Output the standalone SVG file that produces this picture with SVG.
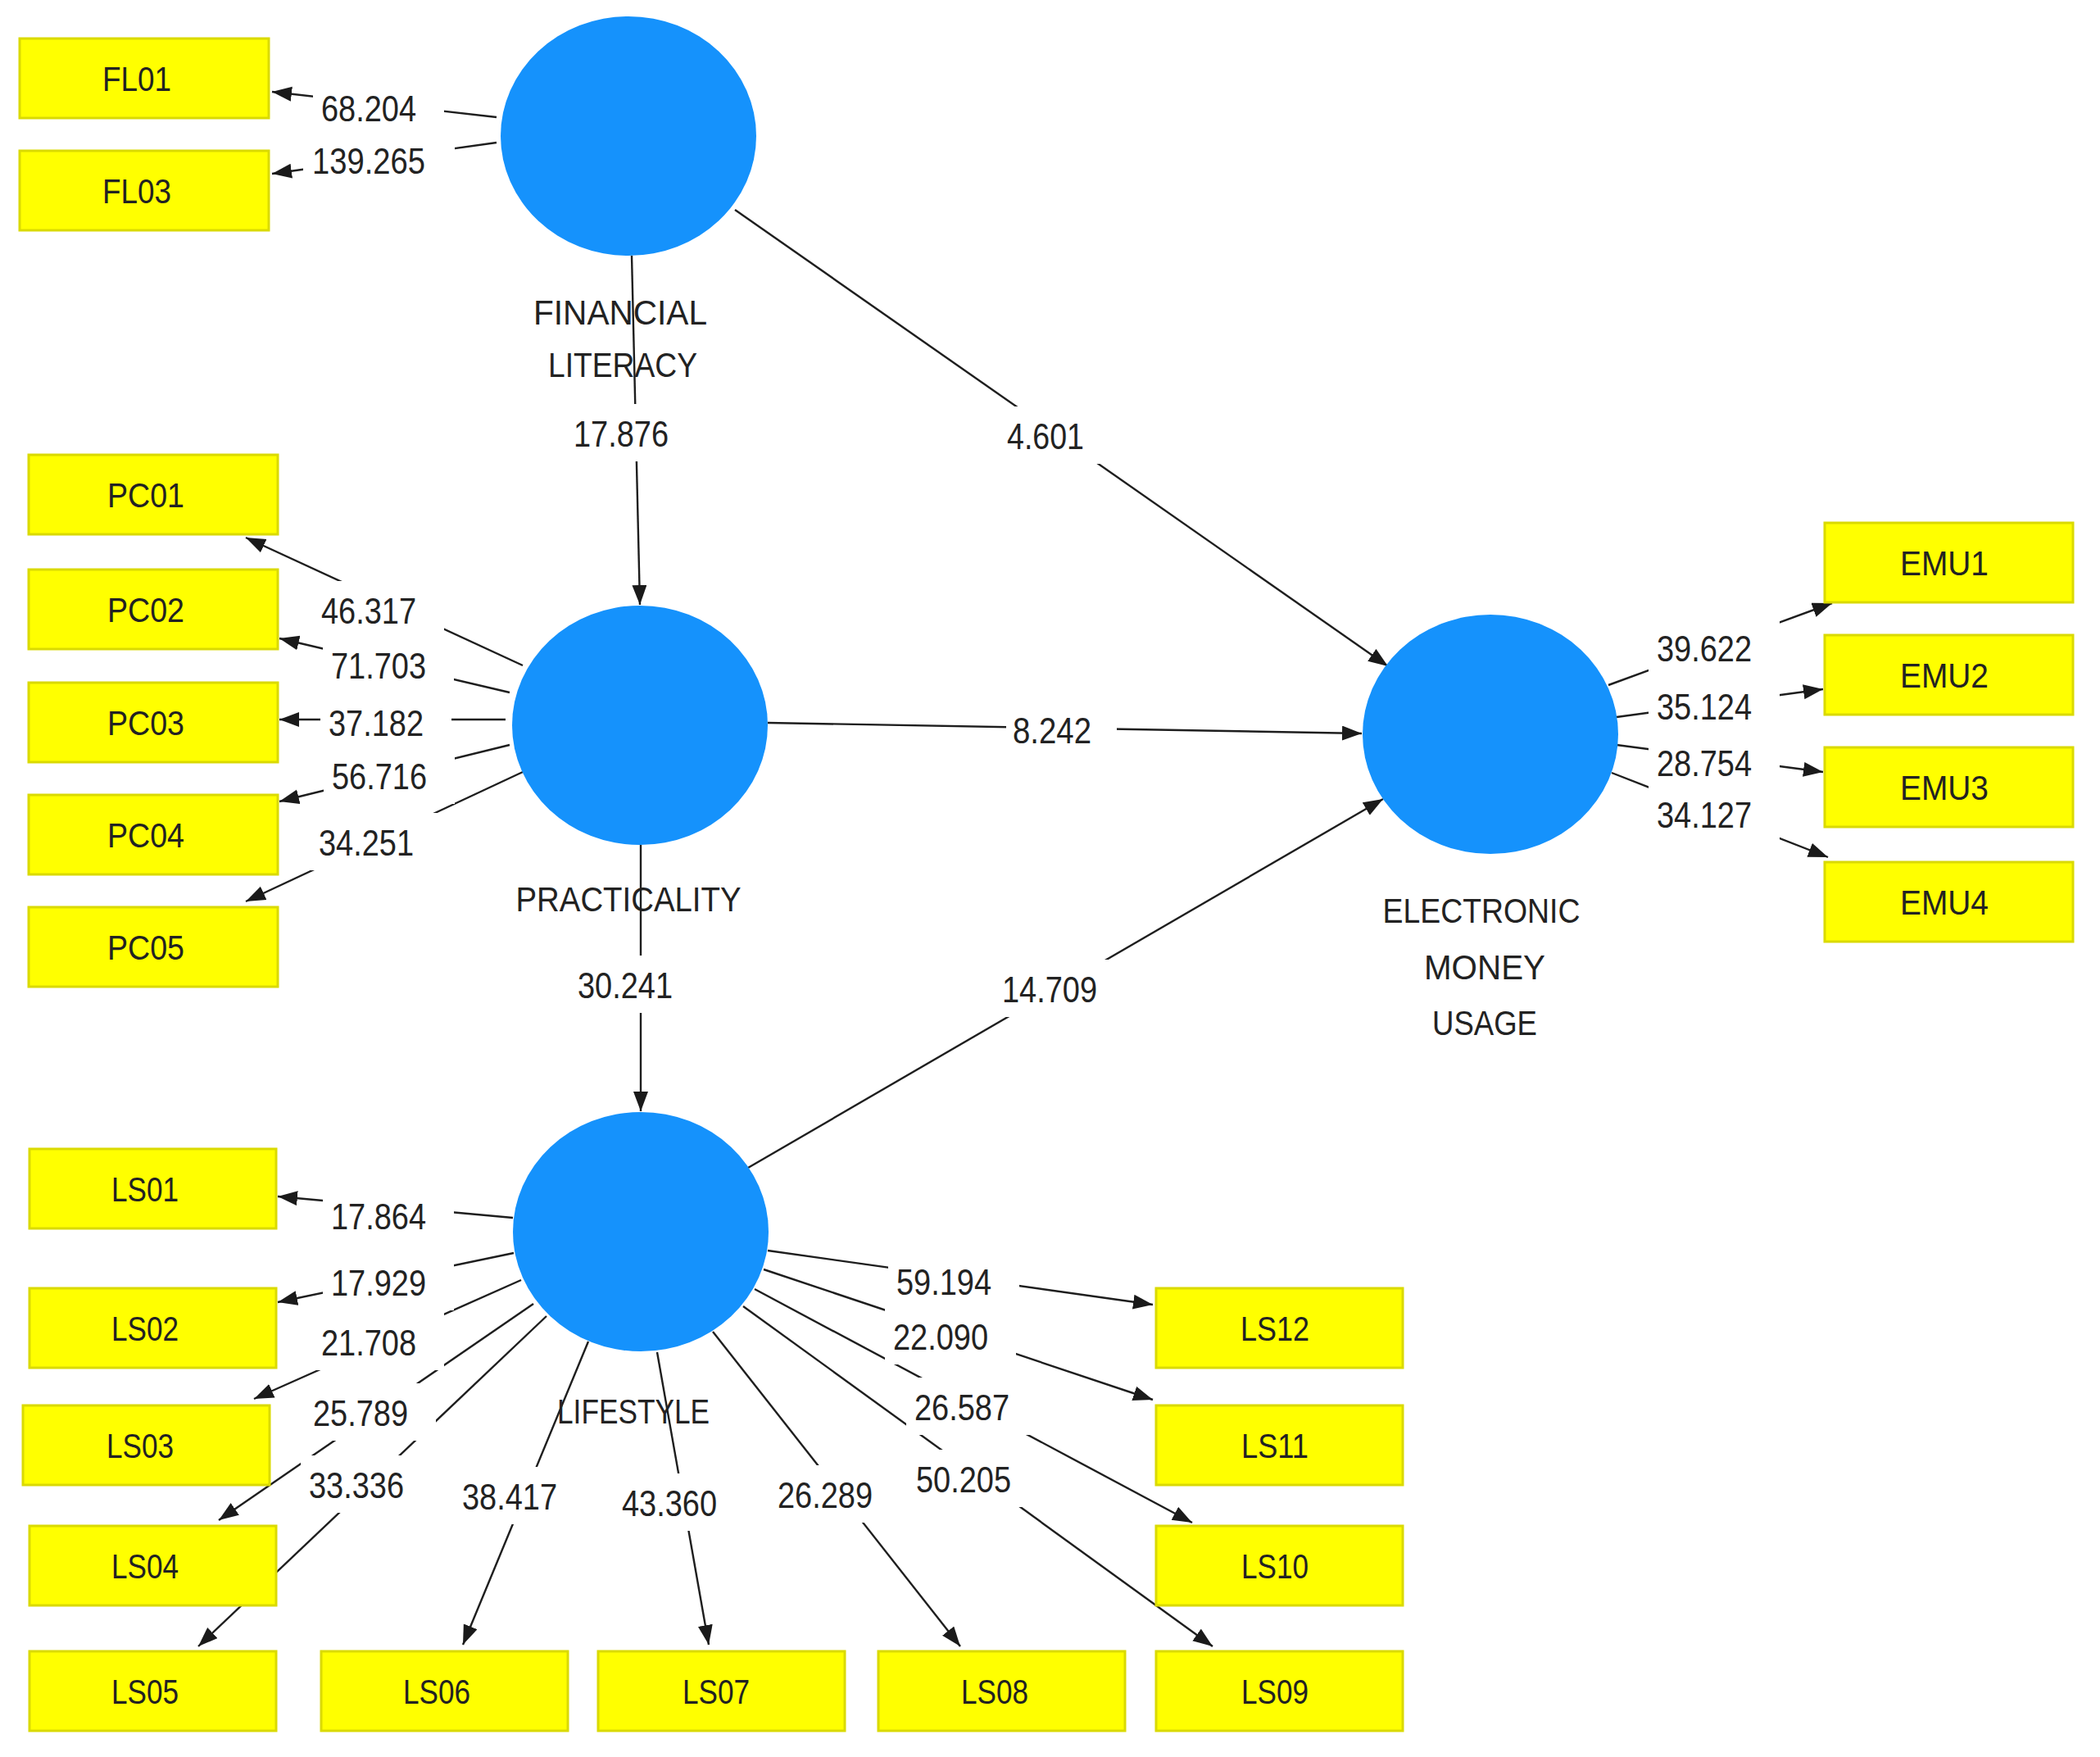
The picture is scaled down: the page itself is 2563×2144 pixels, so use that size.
<svg xmlns="http://www.w3.org/2000/svg" width="2563" height="2144" viewBox="0 0 2563 2144">
<defs>
<marker id="ah" markerUnits="userSpaceOnUse" markerWidth="26" markerHeight="20" refX="24" refY="9" orient="auto">
<path d="M0,0 L24,9 L0,18 Z" fill="#1a1a1a"/>
</marker>
<style>
.c{stroke:#1e1e1e;stroke-width:2.4;fill:none;marker-end:url(#ah)}
.lv{fill:#1592FC}
.mv{fill:#FFFF00;stroke:#DADA00;stroke-width:3}
.t{font-family:"Liberation Sans",Arial,sans-serif;fill:#222;text-anchor:middle}
.n{font-size:44px}
.b{font-size:42px}
.k{font-size:42px}
.bg{fill:#ffffff}
</style>
</defs>
<rect width="2563" height="2144" fill="#ffffff"/>
<g id="connectors">
<line class="c" x1="771" y1="312" x2="781" y2="738"/>
<line class="c" x1="782" y1="1031" x2="782" y2="1356"/>
<line class="c" x1="897" y1="256" x2="1694" y2="813"/>
<line class="c" x1="937" y1="882" x2="1662" y2="895"/>
<line class="c" x1="913" y1="1425" x2="1688" y2="975"/>
<line class="c" x1="606" y1="143" x2="332" y2="112"/>
<line class="c" x1="606" y1="174" x2="332" y2="212"/>
<line class="c" x1="638" y1="812" x2="300" y2="656"/>
<line class="c" x1="622" y1="845" x2="341" y2="779"/>
<line class="c" x1="617" y1="878" x2="341" y2="878"/>
<line class="c" x1="622" y1="909" x2="341" y2="978"/>
<line class="c" x1="638" y1="942" x2="300" y2="1100"/>
<line class="c" x1="1963" y1="836" x2="2236" y2="736"/>
<line class="c" x1="1973" y1="875" x2="2225" y2="841"/>
<line class="c" x1="1973" y1="909" x2="2225" y2="942"/>
<line class="c" x1="1967" y1="943" x2="2231" y2="1046"/>
<line class="c" x1="626" y1="1486" x2="339" y2="1460"/>
<line class="c" x1="627" y1="1529" x2="339" y2="1589"/>
<line class="c" x1="636" y1="1562" x2="310" y2="1707"/>
<line class="c" x1="651" y1="1591" x2="267" y2="1855"/>
<line class="c" x1="667" y1="1606" x2="242" y2="2009"/>
<line class="c" x1="718" y1="1637" x2="565" y2="2007"/>
<line class="c" x1="802" y1="1650" x2="865" y2="2007"/>
<line class="c" x1="870" y1="1625" x2="1172" y2="2009"/>
<line class="c" x1="907" y1="1594" x2="1480" y2="2009"/>
<line class="c" x1="921" y1="1573" x2="1455" y2="1858"/>
<line class="c" x1="932" y1="1549" x2="1407" y2="1708"/>
<line class="c" x1="937" y1="1526" x2="1407" y2="1592"/>
</g>
<g id="edge-labels">
<rect class="bg" x="690" y="493" width="160" height="70"/><text class="t n" x="758" y="545" textLength="116" lengthAdjust="spacingAndGlyphs">17.876</text>
<rect class="bg" x="695" y="1166" width="160" height="70"/><text class="t n" x="763" y="1218" textLength="116" lengthAdjust="spacingAndGlyphs">30.241</text>
<rect class="bg" x="1220" y="496" width="135" height="70"/><text class="t n" x="1276" y="548" textLength="94" lengthAdjust="spacingAndGlyphs">4.601</text>
<rect class="bg" x="1228" y="855" width="135" height="70"/><text class="t n" x="1284" y="907" textLength="96" lengthAdjust="spacingAndGlyphs">8.242</text>
<rect class="bg" x="1213" y="1171" width="160" height="70"/><text class="t n" x="1281" y="1223" textLength="116" lengthAdjust="spacingAndGlyphs">14.709</text>
<rect class="bg" x="382" y="96" width="160" height="70"/><text class="t n" x="450" y="148" textLength="116" lengthAdjust="spacingAndGlyphs">68.204</text>
<rect class="bg" x="370" y="160" width="185" height="70"/><text class="t n" x="450" y="212" textLength="138" lengthAdjust="spacingAndGlyphs">139.265</text>
<rect class="bg" x="382" y="709" width="160" height="70"/><text class="t n" x="450" y="761" textLength="116" lengthAdjust="spacingAndGlyphs">46.317</text>
<rect class="bg" x="394" y="776" width="160" height="70"/><text class="t n" x="462" y="828" textLength="116" lengthAdjust="spacingAndGlyphs">71.703</text>
<rect class="bg" x="391" y="846" width="160" height="70"/><text class="t n" x="459" y="898" textLength="116" lengthAdjust="spacingAndGlyphs">37.182</text>
<rect class="bg" x="395" y="911" width="160" height="70"/><text class="t n" x="463" y="963" textLength="116" lengthAdjust="spacingAndGlyphs">56.716</text>
<rect class="bg" x="379" y="992" width="160" height="70"/><text class="t n" x="447" y="1044" textLength="116" lengthAdjust="spacingAndGlyphs">34.251</text>
<rect class="bg" x="2012" y="755" width="160" height="70"/><text class="t n" x="2080" y="807" textLength="116" lengthAdjust="spacingAndGlyphs">39.622</text>
<rect class="bg" x="2012" y="826" width="160" height="70"/><text class="t n" x="2080" y="878" textLength="116" lengthAdjust="spacingAndGlyphs">35.124</text>
<rect class="bg" x="2012" y="895" width="160" height="70"/><text class="t n" x="2080" y="947" textLength="116" lengthAdjust="spacingAndGlyphs">28.754</text>
<rect class="bg" x="2012" y="958" width="160" height="70"/><text class="t n" x="2080" y="1010" textLength="116" lengthAdjust="spacingAndGlyphs">34.127</text>
<rect class="bg" x="394" y="1448" width="160" height="70"/><text class="t n" x="462" y="1500" textLength="116" lengthAdjust="spacingAndGlyphs">17.864</text>
<rect class="bg" x="394" y="1529" width="160" height="70"/><text class="t n" x="462" y="1581" textLength="116" lengthAdjust="spacingAndGlyphs">17.929</text>
<rect class="bg" x="382" y="1602" width="160" height="70"/><text class="t n" x="450" y="1654" textLength="116" lengthAdjust="spacingAndGlyphs">21.708</text>
<rect class="bg" x="372" y="1688" width="160" height="70"/><text class="t n" x="440" y="1740" textLength="116" lengthAdjust="spacingAndGlyphs">25.789</text>
<rect class="bg" x="367" y="1776" width="160" height="70"/><text class="t n" x="435" y="1828" textLength="116" lengthAdjust="spacingAndGlyphs">33.336</text>
<rect class="bg" x="554" y="1790" width="160" height="70"/><text class="t n" x="622" y="1842" textLength="116" lengthAdjust="spacingAndGlyphs">38.417</text>
<rect class="bg" x="749" y="1798" width="160" height="70"/><text class="t n" x="817" y="1850" textLength="116" lengthAdjust="spacingAndGlyphs">43.360</text>
<rect class="bg" x="939" y="1788" width="160" height="70"/><text class="t n" x="1007" y="1840" textLength="116" lengthAdjust="spacingAndGlyphs">26.289</text>
<rect class="bg" x="1108" y="1769" width="160" height="70"/><text class="t n" x="1176" y="1821" textLength="116" lengthAdjust="spacingAndGlyphs">50.205</text>
<rect class="bg" x="1106" y="1681" width="160" height="70"/><text class="t n" x="1174" y="1733" textLength="116" lengthAdjust="spacingAndGlyphs">26.587</text>
<rect class="bg" x="1080" y="1595" width="160" height="70"/><text class="t n" x="1148" y="1647" textLength="116" lengthAdjust="spacingAndGlyphs">22.090</text>
<rect class="bg" x="1084" y="1528" width="160" height="70"/><text class="t n" x="1152" y="1580" textLength="116" lengthAdjust="spacingAndGlyphs">59.194</text>
</g>
<g id="FINANCIAL_LITERACY"><ellipse class="lv" cx="767" cy="166" rx="156" ry="146"/><text class="t k" x="757" y="396" textLength="212" lengthAdjust="spacingAndGlyphs">FINANCIAL</text><text class="t k" x="760" y="460" textLength="182" lengthAdjust="spacingAndGlyphs">LITERACY</text></g>
<g id="PRACTICALITY"><ellipse class="lv" cx="781" cy="885" rx="156" ry="146"/><text class="t k" x="767" y="1112" textLength="275" lengthAdjust="spacingAndGlyphs">PRACTICALITY</text></g>
<g id="LIFESTYLE"><ellipse class="lv" cx="782" cy="1503" rx="156" ry="146"/><text class="t k" x="773" y="1737" textLength="186" lengthAdjust="spacingAndGlyphs">LIFESTYLE</text></g>
<g id="ELECTRONIC_MONEY_USAGE"><ellipse class="lv" cx="1819" cy="896" rx="156" ry="146"/><text class="t k" x="1808" y="1126" textLength="241" lengthAdjust="spacingAndGlyphs">ELECTRONIC</text><text class="t k" x="1812" y="1195" textLength="148" lengthAdjust="spacingAndGlyphs">MONEY</text><text class="t k" x="1812" y="1263" textLength="128" lengthAdjust="spacingAndGlyphs">USAGE</text></g>
<g id="FL01"><rect class="mv" x="24" y="47" width="304" height="97"/><text class="t b" x="167" y="111" textLength="84" lengthAdjust="spacingAndGlyphs">FL01</text></g>
<g id="FL03"><rect class="mv" x="24" y="184" width="304" height="97"/><text class="t b" x="167" y="248" textLength="84" lengthAdjust="spacingAndGlyphs">FL03</text></g>
<g id="PC01"><rect class="mv" x="35" y="555" width="304" height="97"/><text class="t b" x="178" y="619" textLength="94" lengthAdjust="spacingAndGlyphs">PC01</text></g>
<g id="PC02"><rect class="mv" x="35" y="695" width="304" height="97"/><text class="t b" x="178" y="759" textLength="94" lengthAdjust="spacingAndGlyphs">PC02</text></g>
<g id="PC03"><rect class="mv" x="35" y="833" width="304" height="97"/><text class="t b" x="178" y="897" textLength="94" lengthAdjust="spacingAndGlyphs">PC03</text></g>
<g id="PC04"><rect class="mv" x="35" y="970" width="304" height="97"/><text class="t b" x="178" y="1034" textLength="94" lengthAdjust="spacingAndGlyphs">PC04</text></g>
<g id="PC05"><rect class="mv" x="35" y="1107" width="304" height="97"/><text class="t b" x="178" y="1171" textLength="94" lengthAdjust="spacingAndGlyphs">PC05</text></g>
<g id="EMU1"><rect class="mv" x="2227" y="638" width="303" height="97"/><text class="t b" x="2373" y="702" textLength="108" lengthAdjust="spacingAndGlyphs">EMU1</text></g>
<g id="EMU2"><rect class="mv" x="2227" y="775" width="303" height="97"/><text class="t b" x="2373" y="839" textLength="108" lengthAdjust="spacingAndGlyphs">EMU2</text></g>
<g id="EMU3"><rect class="mv" x="2227" y="912" width="303" height="97"/><text class="t b" x="2373" y="976" textLength="108" lengthAdjust="spacingAndGlyphs">EMU3</text></g>
<g id="EMU4"><rect class="mv" x="2227" y="1052" width="303" height="97"/><text class="t b" x="2373" y="1116" textLength="108" lengthAdjust="spacingAndGlyphs">EMU4</text></g>
<g id="LS01"><rect class="mv" x="36" y="1402" width="301" height="97"/><text class="t b" x="177" y="1466" textLength="82" lengthAdjust="spacingAndGlyphs">LS01</text></g>
<g id="LS02"><rect class="mv" x="36" y="1572" width="301" height="97"/><text class="t b" x="177" y="1636" textLength="82" lengthAdjust="spacingAndGlyphs">LS02</text></g>
<g id="LS03"><rect class="mv" x="28" y="1715" width="301" height="97"/><text class="t b" x="171" y="1779" textLength="82" lengthAdjust="spacingAndGlyphs">LS03</text></g>
<g id="LS04"><rect class="mv" x="36" y="1862" width="301" height="97"/><text class="t b" x="177" y="1926" textLength="82" lengthAdjust="spacingAndGlyphs">LS04</text></g>
<g id="LS05"><rect class="mv" x="36" y="2015" width="301" height="97"/><text class="t b" x="177" y="2079" textLength="82" lengthAdjust="spacingAndGlyphs">LS05</text></g>
<g id="LS06"><rect class="mv" x="392" y="2015" width="301" height="97"/><text class="t b" x="533" y="2079" textLength="82" lengthAdjust="spacingAndGlyphs">LS06</text></g>
<g id="LS07"><rect class="mv" x="730" y="2015" width="301" height="97"/><text class="t b" x="874" y="2079" textLength="82" lengthAdjust="spacingAndGlyphs">LS07</text></g>
<g id="LS08"><rect class="mv" x="1072" y="2015" width="301" height="97"/><text class="t b" x="1214" y="2079" textLength="82" lengthAdjust="spacingAndGlyphs">LS08</text></g>
<g id="LS09"><rect class="mv" x="1411" y="2015" width="301" height="97"/><text class="t b" x="1556" y="2079" textLength="82" lengthAdjust="spacingAndGlyphs">LS09</text></g>
<g id="LS10"><rect class="mv" x="1411" y="1862" width="301" height="97"/><text class="t b" x="1556" y="1926" textLength="82" lengthAdjust="spacingAndGlyphs">LS10</text></g>
<g id="LS11"><rect class="mv" x="1411" y="1715" width="301" height="97"/><text class="t b" x="1556" y="1779" textLength="82" lengthAdjust="spacingAndGlyphs">LS11</text></g>
<g id="LS12"><rect class="mv" x="1411" y="1572" width="301" height="97"/><text class="t b" x="1556" y="1636" textLength="84" lengthAdjust="spacingAndGlyphs">LS12</text></g>
</svg>
